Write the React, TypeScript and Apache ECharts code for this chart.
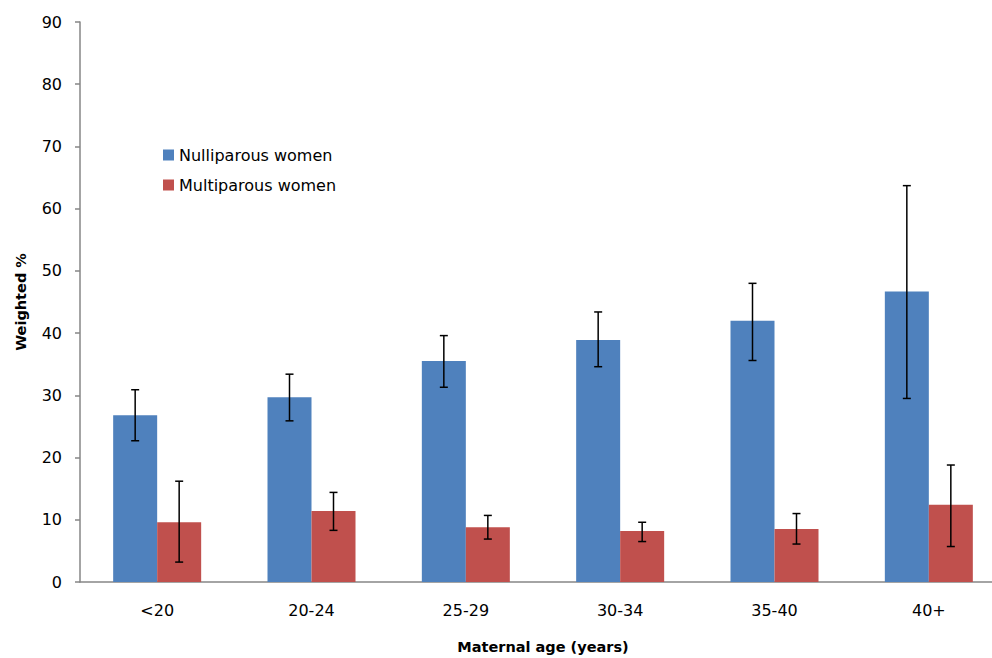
import React, { useEffect, useRef } from "react";
import * as echarts from "echarts";

// Maternal age groups on the x axis
const categories = ["<20", "20-24", "25-29", "30-34", "35-40", "40+"];

// Weighted % with lower / upper confidence limits
const nulliparous = [26.8, 29.7, 35.5, 38.9, 42.0, 46.7];
const nulliparousLow = [22.7, 25.9, 31.3, 34.6, 35.6, 29.5];
const nulliparousHigh = [30.9, 33.4, 39.6, 43.4, 48.0, 63.7];

const multiparous = [9.6, 11.4, 8.8, 8.2, 8.5, 12.4];
const multiparousLow = [3.2, 8.3, 6.9, 6.5, 6.1, 5.7];
const multiparousHigh = [16.2, 14.4, 10.7, 9.6, 11.0, 18.8];

const FONT = "DejaVu Sans";
const BAR_WIDTH = 44;

function errorSeries(low: number[], high: number[], offset: number) {
  return {
    type: "custom",
    z: 10,
    silent: true,
    data: low.map((l, i) => [i, l, high[i]]),
    encode: { x: 0, y: [1, 2] },
    renderItem: (params: any, api: any) => {
      const i = api.value(0);
      const lo = api.coord([i, api.value(1)]);
      const hi = api.coord([i, api.value(2)]);
      const x = lo[0] + offset;
      const cap = 4;
      const style = { stroke: "#000", lineWidth: 1.5 };
      return {
        type: "group",
        children: [
          { type: "line", shape: { x1: x, y1: hi[1], x2: x, y2: lo[1] }, style },
          { type: "line", shape: { x1: x - cap, y1: hi[1], x2: x + cap, y2: hi[1] }, style },
          { type: "line", shape: { x1: x - cap, y1: lo[1], x2: x + cap, y2: lo[1] }, style },
        ],
      };
    },
  };
}

export default function App() {
  const ref = useRef<HTMLDivElement>(null);

  useEffect(() => {
    document.body.style.margin = "0";
    const chart = echarts.init(ref.current!, undefined, { renderer: "svg" });
    chart.setOption({
      animation: false,
      backgroundColor: "#fff",
      textStyle: { fontFamily: FONT },
      grid: { left: 80, right: -14, top: 22, bottom: 76, outerBoundsMode: "none" },
      legend: {
        orient: "vertical",
        left: 158,
        top: 142,
        itemWidth: 11,
        itemHeight: 11,
        itemGap: 14,
        icon: "rect",
        textStyle: { fontFamily: FONT, fontSize: 16, color: "#000" },
        data: ["Nulliparous women", "Multiparous women"],
      },
      xAxis: {
        type: "category",
        data: categories,
        name: "Maternal age (years)",
        nameLocation: "middle",
        nameGap: 57,
        nameTextStyle: { fontFamily: FONT, fontSize: 14.5, fontWeight: "bold", color: "#000" },
        axisLine: { lineStyle: { color: "#868686", width: 1.5 } },
        axisTick: { length: 7, lineStyle: { color: "#868686", width: 1.5 } },
        axisLabel: { margin: 20, fontSize: 16, color: "#000", fontFamily: FONT },
      },
      yAxis: {
        type: "value",
        min: 0,
        max: 90,
        interval: 10,
        name: "Weighted %",
        nameLocation: "middle",
        nameGap: 52,
        nameTextStyle: { fontFamily: FONT, fontSize: 14.5, fontWeight: "bold", color: "#000" },
        splitLine: { show: false },
        axisLine: { show: true, lineStyle: { color: "#868686", width: 1.5 } },
        axisTick: { show: true, length: 5, lineStyle: { color: "#868686", width: 1.5 } },
        axisLabel: { margin: 18, fontSize: 16, color: "#000", fontFamily: FONT },
      },
      series: [
        {
          name: "Nulliparous women",
          type: "bar",
          data: nulliparous,
          barWidth: BAR_WIDTH,
          barGap: "0%",
          itemStyle: { color: "#4F81BD" },
        },
        {
          name: "Multiparous women",
          type: "bar",
          data: multiparous,
          barWidth: BAR_WIDTH,
          barGap: "0%",
          itemStyle: { color: "#C0504D" },
        },
        errorSeries(nulliparousLow, nulliparousHigh, -BAR_WIDTH / 2),
        errorSeries(multiparousLow, multiparousHigh, BAR_WIDTH / 2),
      ],
    });
    return () => chart.dispose();
  }, []);

  return <div ref={ref} style={{ width: 992, height: 658 }} />;
}
